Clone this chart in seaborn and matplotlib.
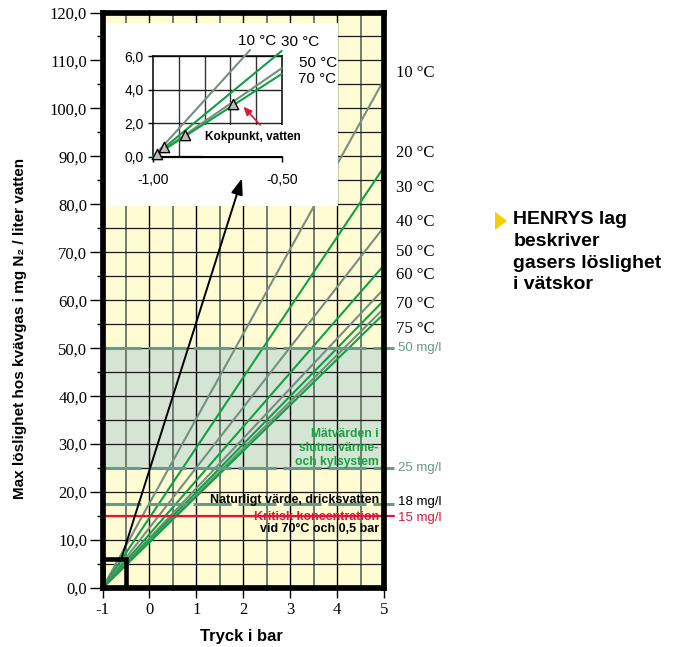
import numpy as np
import pandas as pd
import matplotlib
matplotlib.use("Agg")
import matplotlib.pyplot as plt
import seaborn as sns
from matplotlib.patches import Rectangle, Polygon
from matplotlib.ticker import MultipleLocator, FuncFormatter, FixedLocator

# ---------------- data ----------------
temps = [10, 20, 30, 40, 50, 60, 70, 75]
temp_labels = ["10 °C", "20 °C", "30 °C", "40 °C", "50 °C", "60 °C", "70 °C", "75 °C"]
sol_at_5bar = [106.0, 87.8, 75.3, 67.3, 62.4, 60.0, 58.3, 57.2]   # mg/l at 5 bar (gauge)
temp_label_y = [107.4, 90.6, 83.4, 76.3, 70.1, 65.2, 59.2, 54.1]
pressure_ends = [-1, 5]

limit_values = [50, 25, 17.5, 15]
limit_labels = ["50 mg/l", "25 mg/l", "18 mg/l", "15 mg/l"]
limit_label_y = [50, 25, 17.9, 14.7]

inset_temps = [10, 30, 50, 70]
inset_labels = ["10 °C", "30 °C", "50 °C", "70 °C"]
inset_end_x = [-0.623, -0.5, -0.5, -0.5]
inset_end_y = [6.36, 6.30, 5.27, 4.93]
inset_label_x = [-0.596, -0.428, -0.358, -0.362]
inset_label_y = [6.90, 6.84, 5.58, 4.63]
boil_x = [-0.987, -0.958, -0.876, -0.691]
boil_y = [0.16, 0.56, 1.29, 3.14]

# ---------------- style ----------------
sns.set_style("white")
plt.rcParams["font.family"] = ["Liberation Sans", "DejaVu Sans"]
plt.rcParams["axes.unicode_minus"] = False
plt.rcParams["lines.scale_dashes"] = False
plt.rcParams["text.color"] = "black"
plt.rcParams["xtick.color"] = "black"
plt.rcParams["ytick.color"] = "black"
plt.rcParams["axes.labelcolor"] = "black"

SERIF = ["Liberation Serif", "DejaVu Serif"]
SANS = ["Liberation Sans", "DejaVu Sans"]
CREAM = "#FFFCD4"
BAND = "#D4E6D3"
TEAL = "#689A8A"
GRAY = "#74907F"
GREEN = "#10A045"
RED = "#E2163C"
TGREEN = "#18A045"

line_colors = [GRAY, GREEN, GRAY, GREEN, GRAY, GREEN, GRAY, GREEN]
inset_colors = [GRAY, GREEN, GRAY, GREEN]

fig = plt.figure(figsize=(6.8, 6.47), dpi=100)
W, H = 680, 647

ax = fig.add_axes([102.5 / W, 1 - 588 / H, (384 - 102.5) / W, (588 - 12.5) / H])
ax.set_facecolor(CREAM)
ax.set_xlim(-1, 5)
ax.set_ylim(0, 120)

# band and grid
ax.axhspan(25, 50, color=BAND, zorder=0.2, lw=0)
ax.xaxis.set_major_locator(MultipleLocator(1))
ax.xaxis.set_minor_locator(MultipleLocator(0.5))
ax.yaxis.set_major_locator(MultipleLocator(10))
ax.yaxis.set_minor_locator(MultipleLocator(5))
ax.set_axisbelow(True)
ax.grid(which="major", axis="x", color="black", lw=1.0, zorder=0.5)
ax.grid(which="minor", axis="x", color="#6E7E70", lw=1.4, zorder=0.5)
ax.grid(which="both", axis="y", color="#1a1a1a", lw=0.9, zorder=0.5)

# temperature lines
rows = []
for t, v in zip(temps, sol_at_5bar):
    rows.append({"Tryck": pressure_ends[0], "Loslighet": 0.0, "Temp": t})
    rows.append({"Tryck": pressure_ends[1], "Loslighet": v, "Temp": t})
df = pd.DataFrame(rows)
sns.lineplot(data=df, x="Tryck", y="Loslighet", hue="Temp",
             palette=dict(zip(temps, line_colors)), lw=1.5, legend=False,
             ax=ax, zorder=3)

# limit lines
for val, lab, ly in zip(limit_values, limit_labels, limit_label_y):
    if val == 15:
        ax.plot([-1, 5.207], [val, val], color=RED, lw=1.6, zorder=3.5, clip_on=False)
        tcol = RED
    else:
        ax.plot([-1, 5.207], [val, val], color=TEAL, lw=2.2, zorder=3.5,
                clip_on=False, linestyle=(0, (27.4, 5.0)))
        tcol = "black" if val == 17.5 else TEAL
    ax.text(5.29, ly, lab, color=tcol, fontsize=9.5, va="center", ha="left",
            family=SANS)

for lab, y in zip(temp_labels, temp_label_y):
    ax.text(5.25, y, lab, fontsize=12, va="center", ha="left", family=SERIF)

# inner texts
ax.text(4.887, 29.2, "Mätvärden i\nslutna värme-\noch kylsystem", color=TGREEN,
        fontsize=8.7, fontweight="bold", ha="right", va="center", linespacing=1.2,
        zorder=4)
ax.text(4.887, 18.4, "Naturligt värde, dricksvatten", color="black", fontsize=9,
        fontweight="bold", ha="right", va="center", zorder=4)
ax.text(4.887, 14.85, "Kritisk koncentration", color=RED, fontsize=9,
        fontweight="bold", ha="right", va="center", zorder=4)
ax.text(4.887, 12.4, "vid 70°C och 0,5 bar", color="black", fontsize=9,
        fontweight="bold", ha="right", va="center", zorder=4)

# white box for inset, zoom box and arrow
ax.add_patch(Rectangle((-0.95, 79.6), 4.98, 38.2, facecolor="white", edgecolor="none",
                       zorder=5))
ax.add_patch(Rectangle((-1, 0), 0.5, 6, facecolor="none", edgecolor="black", lw=3.3,
                       zorder=6))
ax.annotate("", xy=(1.972, 85.4), xytext=(-0.594, 6.25),
            arrowprops=dict(arrowstyle="-|>,head_length=0.6,head_width=0.22",
                            color="black", lw=1.4, mutation_scale=16,
                            shrinkA=0, shrinkB=0), zorder=7, annotation_clip=False)

# axes styling
for s in ax.spines.values():
    s.set_linewidth(4.1)
    s.set_color("black")
    s.set_zorder(8)
ax.tick_params(axis="y", which="major", direction="out", length=9.5, width=1.0,
               pad=1.5, labelsize=12, left=True)
ax.tick_params(axis="y", which="minor", direction="out", length=4, width=1.0, left=True)
ax.tick_params(axis="x", which="major", direction="out", length=7, width=1.0,
               pad=3, labelsize=12, bottom=True)
ax.tick_params(axis="x", which="minor", length=0)
ax.yaxis.set_major_formatter(FuncFormatter(lambda v, p: f"{v:.1f}".replace(".", ",")))
ax.xaxis.set_major_formatter(FuncFormatter(lambda v, p: f"{v:.0f}"))
for lbl in ax.get_xticklabels() + ax.get_yticklabels():
    lbl.set_family(SERIF)
ax.set_xlabel("")
ax.set_ylabel("")

fig.text(20 / W, 1 - 328 / H, "Max löslighet hos kvävgas i mg N₂ / liter vatten",
         rotation=90, fontsize=11, fontweight="bold", ha="center", va="center",
         family=SANS)
fig.text(241.7 / W, 1 - 637 / H, "Tryck i bar", fontsize=12, fontweight="bold",
         ha="center", va="center", family=SANS)

# ---------------- inset ----------------
ia = fig.add_axes([153.3 / W, 1 - 156.7 / H, 128.4 / W, 100.7 / H])
ia.set_facecolor("none")
ia.set_xlim(-1, -0.5)
ia.set_ylim(0, 6)
ia.xaxis.set_major_locator(FixedLocator([-1.0, -0.5]))
ia.xaxis.set_minor_locator(MultipleLocator(0.1))
ia.yaxis.set_major_locator(MultipleLocator(2))
ia.set_axisbelow(True)
ia.grid(which="minor", axis="x", color="#333333", lw=1.0)
ia.grid(which="major", axis="y", color="#222222", lw=1.0)

irows = []
for t, ex, ey in zip(inset_temps, inset_end_x, inset_end_y):
    irows.append({"Tryck": -1.0, "Loslighet": 0.0, "Temp": t})
    irows.append({"Tryck": ex, "Loslighet": ey, "Temp": t})
idf = pd.DataFrame(irows)
sns.lineplot(data=idf, x="Tryck", y="Loslighet", hue="Temp",
             palette=dict(zip(inset_temps, inset_colors)), lw=1.5, legend=False,
             ax=ia, zorder=3)
for ln in ia.lines:
    ln.set_clip_on(False)

ia.add_patch(Rectangle((-0.805, 0.05), 0.36, 1.84, facecolor="white", edgecolor="none",
                       zorder=2.7, clip_on=False))
sns.scatterplot(x=boil_x, y=boil_y, marker="^", s=55, color="#BDBDBD",
                edgecolor="black", linewidth=1.0, ax=ia, zorder=5, clip_on=False)
ia.text(-0.7985, 1.19, "Kokpunkt, vatten", fontsize=8.5, fontweight="bold",
        ha="left", va="center", zorder=4)
ia.annotate("", xy=(-0.649, 2.98), xytext=(-0.584, 1.89),
            arrowprops=dict(arrowstyle="-|>,head_length=0.5,head_width=0.22",
                            color=RED, lw=1.2, mutation_scale=10,
                            shrinkA=0, shrinkB=0), zorder=6, annotation_clip=False)
for lab, x, y in zip(inset_labels, inset_label_x, inset_label_y):
    ia.text(x, y, lab, fontsize=11, ha="center", va="center", zorder=6)

for k, s in ia.spines.items():
    s.set_color("black")
    s.set_linewidth(1.1)
ia.spines["bottom"].set_linewidth(1.6)
ia.tick_params(axis="both", which="major", direction="out", length=3.5, width=1.0,
               labelsize=10, left=True, bottom=True)
ia.tick_params(axis="x", which="major", pad=8)
ia.tick_params(axis="x", which="minor", length=0)
ia.yaxis.set_major_formatter(FuncFormatter(lambda v, p: f"{v:.1f}".replace(".", ",")))
ia.xaxis.set_major_formatter(FuncFormatter(lambda v, p: f"{v:.2f}".replace(".", ",")))
ia.set_xlabel("")
ia.set_ylabel("")

# ---------------- side text ----------------
tri = [(495 / W, 1 - 211.7 / H), (495 / W, 1 - 230 / H), (507 / W, 1 - 220.8 / H)]
fig.add_artist(Polygon(tri, closed=True, transform=fig.transFigure,
                       facecolor="#F5D000", edgecolor="none"))
fig.text(513.3 / W, 1 - 211.3 / H, "HENRYS lag\nbeskriver\ngasers löslighet\ni vätskor",
         fontsize=14, fontweight="bold", ha="left", va="top", linespacing=1.36,
         family=SANS)

fig.savefig("out.png", dpi=100)
